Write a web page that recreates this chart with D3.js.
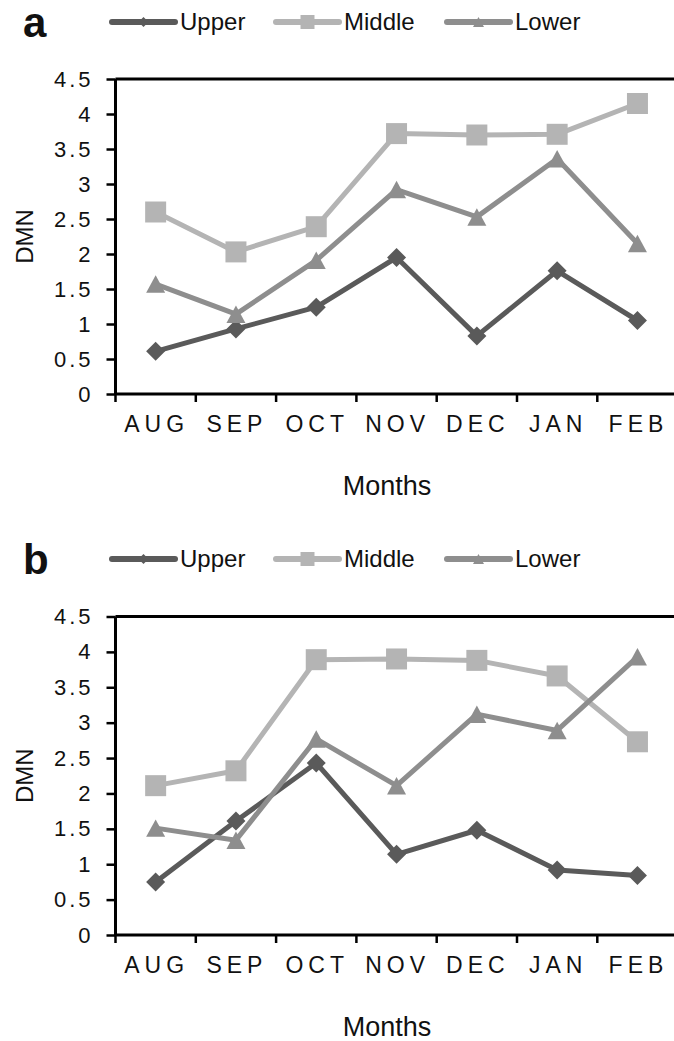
<!DOCTYPE html>
<html><head><meta charset="utf-8">
<script src="https://cdn.jsdelivr.net/npm/d3@7"></script>
<style>
html,body{margin:0;padding:0;background:#fff;}
svg{display:block;}
text{font-family:"Liberation Sans",Arial,sans-serif;fill:#111;}
</style></head>
<body>
<svg id="chart" width="674" height="1041"></svg>
<script>
const months = ["AUG","SEP","OCT","NOV","DEC","JAN","FEB"];
const yTicks = [0,0.5,1,1.5,2,2.5,3,3.5,4,4.5];
const seriesNames = ["Upper","Middle","Lower"];
const upperA  = [0.61, 0.93, 1.24, 1.95, 0.83, 1.76, 1.05];
const middleA = [2.60, 2.03, 2.39, 3.72, 3.70, 3.71, 4.15];
const lowerA  = [1.57, 1.14, 1.91, 2.92, 2.53, 3.36, 2.15];
const upperB  = [0.75, 1.61, 2.43, 1.14, 1.48, 0.92, 0.84];
const middleB = [2.11, 2.32, 3.89, 3.90, 3.88, 3.66, 2.73];
const lowerB  = [1.51, 1.34, 2.77, 2.11, 3.12, 2.89, 3.93];

const colors = {Upper:"#5a5a5a", Middle:"#b4b4b4", Lower:"#8e8e8e"};

const diamondType = {draw(ctx, size){const r=Math.sqrt(size)/2; ctx.moveTo(0,-r); ctx.lineTo(r,0); ctx.lineTo(0,r); ctx.lineTo(-r,0); ctx.closePath();}};
const squareType = {draw(ctx, size){const r=Math.sqrt(size)/2; ctx.rect(-r,-r,2*r,2*r);}};
const triType = {draw(ctx, size){const w=Math.sqrt(size); const h=w*0.92; ctx.moveTo(0,-h/2); ctx.lineTo(w/2,h/2); ctx.lineTo(-w/2,h/2); ctx.closePath();}};
const markerType = {Upper:diamondType, Middle:squareType, Lower:triType};
const markerSize = {Upper:19*19, Middle:21*21, Lower:19*19};
const legendMarkerSize = {Upper:10*10, Middle:14*14, Lower:11*11};

const svg = d3.select("#chart");

function drawPanel(dy, letter, dataArrs, yTop, yBot){
  const g = svg.append("g").attr("transform", `translate(0,${dy})`);
  const x0 = 115.5, x1 = 115.5 + 7*80.3;
  const x = d3.scaleBand().domain(months).range([x0, x1]).paddingInner(0).paddingOuter(0);
  const y = d3.scaleLinear().domain([0,4.5]).range([yBot, yTop]);

  // panel letter
  g.append("text").attr("x", 23).attr("y", 37).attr("font-size", 42).attr("font-weight", "bold").text(letter);

  // legend
  const legX = [112, 276, 447];
  seriesNames.forEach((s,i)=>{
    const lg = g.append("g");
    lg.append("line").attr("x1", legX[i]).attr("x2", legX[i]+63).attr("y1", 22).attr("y2", 22)
      .attr("stroke", colors[s]).attr("stroke-width", 6).attr("stroke-linecap","round");
    lg.append("path").attr("d", d3.symbol().type(markerType[s]).size(legendMarkerSize[s])())
      .attr("transform", `translate(${legX[i]+31.5},22)`).attr("fill", colors[s]);
    lg.append("text").attr("x", legX[i]+68).attr("y", 30).attr("font-size", 24).text(s);
  });

  // y axis
  const yAxis = g.append("g").attr("transform", `translate(${x0},0)`)
    .call(d3.axisLeft(y).tickValues(yTicks).tickSize(9).tickPadding(12).tickFormat(d=>String(d)));
  yAxis.select(".domain").remove();
  yAxis.selectAll(".tick line").attr("stroke","#000").attr("stroke-width",2.5);
  yAxis.selectAll(".tick text").attr("font-size", 22).attr("letter-spacing", "3px")
    .attr("font-family", '"Liberation Sans",Arial,sans-serif').attr("fill","#111").attr("x",-22);

  // x axis labels (band centers)
  const xAxis = g.append("g").attr("transform", `translate(0,${yBot})`)
    .call(d3.axisBottom(x).tickSize(0).tickPadding(22));
  xAxis.select(".domain").remove();
  xAxis.selectAll(".tick text").attr("font-size", 23).attr("letter-spacing", "5px")
    .attr("font-family", '"Liberation Sans",Arial,sans-serif').attr("fill","#111")
    .attr("dy","0.71em").attr("dx","1px");
  // x tick marks at band boundaries
  const bounds = months.map(m=>x(m));
  g.append("g").selectAll("line").data(bounds).join("line")
    .attr("x1", d=>d).attr("x2", d=>d).attr("y1", yBot).attr("y2", yBot+8)
    .attr("stroke","#000").attr("stroke-width",2.5);

  // frame lines
  g.append("line").attr("x1", x0).attr("x2", x1).attr("y1", yBot).attr("y2", yBot).attr("stroke","#000").attr("stroke-width",3);
  g.append("line").attr("x1", x0).attr("x2", x0).attr("y1", yTop).attr("y2", yBot).attr("stroke","#000").attr("stroke-width",3);
  g.append("line").attr("x1", x0).attr("x2", x1).attr("y1", yTop).attr("y2", yTop).attr("stroke","#000").attr("stroke-width",3);
  g.append("line").attr("x1", x1).attr("x2", x1).attr("y1", yTop).attr("y2", yBot).attr("stroke","#000").attr("stroke-width",3);

  // axis titles
  g.append("text").attr("transform", `translate(33,${(yTop+yBot)/2}) rotate(-90)`)
    .attr("text-anchor","middle").attr("font-size", 24).text("DMN");
  g.append("text").attr("x", 387).attr("y", yBot+101).attr("text-anchor","middle").attr("font-size", 27).text("Months");

  // series
  const line = d3.line().x((d,i)=>x(months[i]) + x.bandwidth()/2).y(d=>y(d));
  seriesNames.forEach((s,k)=>{
    const vals = dataArrs[k];
    g.append("path").datum(vals).attr("d", line).attr("fill","none")
      .attr("stroke", colors[s]).attr("stroke-width", 5).attr("stroke-linejoin","round");
    g.append("g").selectAll("path").data(vals).join("path")
      .attr("d", d3.symbol().type(markerType[s]).size(markerSize[s])())
      .attr("transform", (d,i)=>`translate(${x(months[i]) + x.bandwidth()/2},${y(d)})`)
      .attr("fill", colors[s]);
  });
}

drawPanel(0, "a", [upperA, middleA, lowerA], 79, 394);
drawPanel(537, "b", [upperB, middleB, lowerB], 79.5, 398);
</script>
</body></html>
